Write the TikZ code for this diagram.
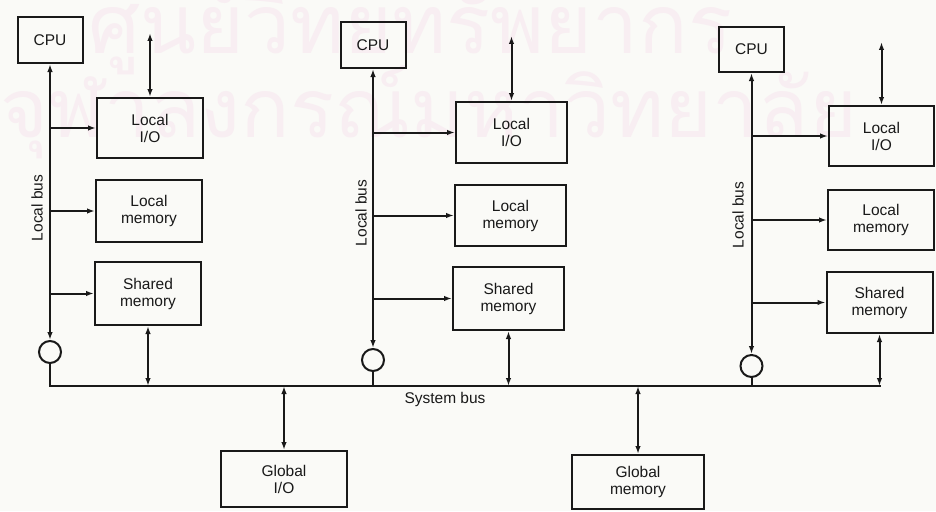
\documentclass[tikz,border=0pt]{standalone}
\usepackage{fontspec}
\setmainfont{Liberation Sans}
\newfontfamily\thaifont[Script=Thai]{Loma}
\usetikzlibrary{arrows.meta}
\definecolor{paper}{RGB}{250,250,247}
\definecolor{ink}{RGB}{25,25,25}
\definecolor{wmark}{RGB}{248,238,242}
\tikzset{
  box/.style={draw=ink, line width=2pt, fill=none, inner sep=0pt, align=center,
              text=ink, font=\fontsize{15.5pt}{17pt}\selectfont},
  conn/.style={draw=ink, line width=2pt},
  uni/.style={conn, -{Latex[length=8pt,width=5.5pt]}},
  bi/.style={conn, {Latex[length=8pt,width=5.5pt]}-{Latex[length=8pt,width=5.5pt]}},
  sw/.style={circle, draw=ink, line width=2pt, minimum size=22pt, inner sep=0pt},
  lbl/.style={text=ink, font=\fontsize{15.5pt}{17pt}\selectfont, inner sep=0pt},
  wm/.style={text=wmark, inner sep=0pt, anchor=west}
}
\begin{document}
\begin{tikzpicture}[x=1pt,y=-1pt]
\useasboundingbox (0,0) rectangle (936,511);
\fill[paper] (0,0) rectangle (936,511);
% watermark
\node[wm, font=\thaifont\fontsize{82pt}{88pt}\selectfont] (wm1) at (88,28) {ศูนย์วิทยทรัพยากร};
\node[wm, font=\thaifont\fontsize{82pt}{88pt}\selectfont] (wm2) at (0,112) {จุฬาลงกรณ์มหาวิทยาลัย};

% ---------- module 1
\node[box, minimum width=65pt, minimum height=46pt] (cpu1) at (50,40) {CPU};
\node[box, minimum width=106pt, minimum height=60pt] (io1) at (150,128) {Local\\I/O};
\node[box, minimum width=106pt, minimum height=62pt] (mem1) at (149,211) {Local\\memory};
\node[box, minimum width=106pt, minimum height=63pt] (sh1) at (148,293.5) {Shared\\memory};
\node[sw] (c1) at (50,352) {};
\coordinate (io1t) at (150,33);
\coordinate (b1) at (50,386);
\coordinate (s1) at (sh1.south |- b1);
\draw[bi] (cpu1.south) -- (c1.north);
\draw[uni] (cpu1.south |- io1.west) -- (io1.west);
\draw[uni] (cpu1.south |- mem1.west) -- (mem1.west);
\draw[uni] (cpu1.south |- sh1.west) -- (sh1.west);
\draw[bi] (io1t) -- (io1.north);
\draw[conn] (c1.south) -- (b1);
\draw[bi] (sh1.south) -- (s1);
\node[lbl, rotate=90] (lb1) at (37,208) {Local bus};

% ---------- module 2
\node[box, minimum width=65pt, minimum height=46pt] (cpu2) at (373,45) {CPU};
\node[box, minimum width=111pt, minimum height=61pt] (io2) at (511.5,132.5) {Local\\I/O};
\node[box, minimum width=111pt, minimum height=61pt] (mem2) at (510.5,215.5) {Local\\memory};
\node[box, minimum width=111pt, minimum height=63pt] (sh2) at (508.5,298.5) {Shared\\memory};
\node[sw] (c2) at (373,360) {};
\coordinate (io2t) at (511.5,36);
\coordinate (b2) at (373,386);
\coordinate (s2) at (sh2.south |- b2);
\draw[bi] (cpu2.south) -- (c2.north);
\draw[uni] (cpu2.south |- io2.west) -- (io2.west);
\draw[uni] (cpu2.south |- mem2.west) -- (mem2.west);
\draw[uni] (cpu2.south |- sh2.west) -- (sh2.west);
\draw[bi] (io2t) -- (io2.north);
\draw[conn] (c2.south) -- (b2);
\draw[bi] (sh2.south) -- (s2);
\node[lbl, rotate=90] (lb2) at (361,213) {Local bus};

% ---------- module 3
\node[box, minimum width=65pt, minimum height=45pt] (cpu3) at (751.5,49.5) {CPU};
\node[box, minimum width=105pt, minimum height=60pt] (io3) at (881.5,136) {Local\\I/O};
\node[box, minimum width=106pt, minimum height=60pt] (mem3) at (881,220) {Local\\memory};
\node[box, minimum width=106pt, minimum height=61pt] (sh3) at (879.5,302.5) {Shared\\memory};
\node[sw] (c3) at (751.5,366) {};
\coordinate (io3t) at (881.5,42);
\coordinate (b3) at (751.5,386);
\coordinate (s3) at (sh3.south |- b3);
\draw[bi] (cpu3.south) -- (c3.north);
\draw[uni] (cpu3.south |- io3.west) -- (io3.west);
\draw[uni] (cpu3.south |- mem3.west) -- (mem3.west);
\draw[uni] (cpu3.south |- sh3.west) -- (sh3.west);
\draw[bi] (io3t) -- (io3.north);
\draw[conn] (c3.south) -- (b3);
\draw[bi] (sh3.south) -- (s3);
\node[lbl, rotate=90] (lb3) at (738,215) {Local bus};

% ---------- system bus
\draw[conn, line cap=rect] (b1) -- (s3);
\node[lbl] (sysbus) at (445,399) {System bus};

\node[box, minimum width=126pt, minimum height=56pt] (gio) at (284,479) {Global\\I/O};
\node[box, minimum width=132pt, minimum height=54pt] (gmem) at (638,482) {Global\\memory};
\coordinate (g1) at (gio.north |- b1);
\coordinate (g2) at (gmem.north |- b1);
\draw[bi] (g1) -- (gio.north);
\draw[bi] (g2) -- (gmem.north);
\end{tikzpicture}
\end{document}
